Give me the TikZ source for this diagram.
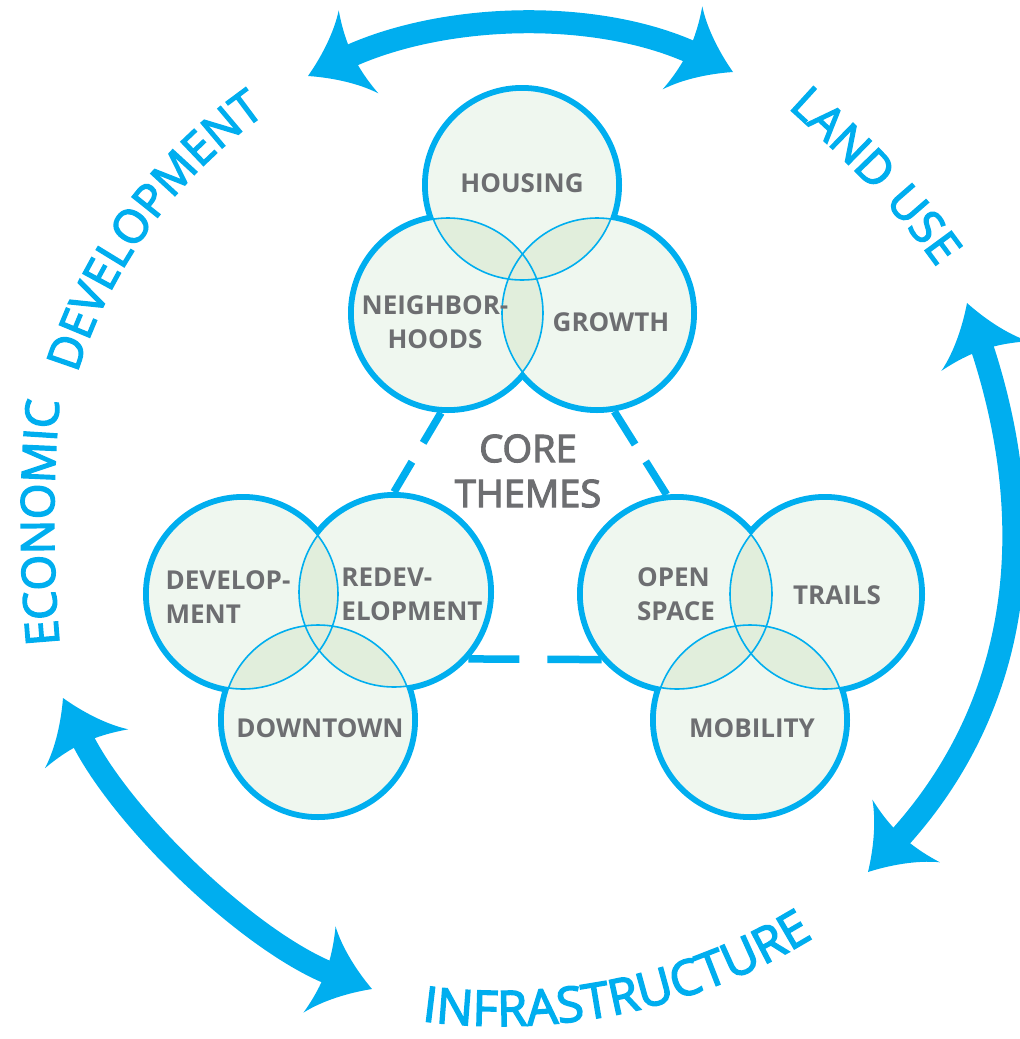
\documentclass[tikz,border=0pt]{standalone}
\usepackage{fontspec}
\setmainfont{Open Sans}
\newfontfamily\bandfam[FakeBold=3]{Open Sans}
\newfontfamily\bandwide[FakeBold=3,LetterSpace=4]{Open Sans}
\newfontfamily\bandwider[FakeBold=3,LetterSpace=6]{Open Sans}
\newfontfamily\corefam[FakeBold=3]{Open Sans}
\usetikzlibrary{arrows.meta,decorations.text}
\definecolor{themeblue}{HTML}{00AEEF}
\definecolor{themegray}{HTML}{6D6E71}
\definecolor{themefill}{HTML}{EFF7EF}
\definecolor{themeoverlap}{HTML}{E1EEDC}
\newcommand\bandfont{\bandfam\fontsize{46}{46}\selectfont}
\newcommand\bandwidefont{\bandwide\fontsize{46}{46}\selectfont}
\newcommand\bandwiderfont{\bandwider\fontsize{49}{49}\selectfont}

\pgfdeclarearrow{
  name = Swoop,
  parameters = {\the\pgfarrowlength,\the\pgfarrowwidth},
  setup code = {
    \pgfarrowssettipend{0pt}
    \pgfarrowssetbackend{-\pgfarrowlength}
    \pgfarrowssetlineend{-.7\pgfarrowlength}
    \pgfarrowshullpoint{0pt}{0pt}
    \pgfarrowsupperhullpoint{-\pgfarrowlength}{.5\pgfarrowwidth}
    \pgfarrowssavethe\pgfarrowlength
    \pgfarrowssavethe\pgfarrowwidth
  },
  drawing code = {
    \pgfpathmoveto{\pgfpointorigin}
    \pgfpathcurveto{\pgfqpoint{-.35\pgfarrowlength}{.12\pgfarrowwidth}}
                   {\pgfqpoint{-.75\pgfarrowlength}{.3\pgfarrowwidth}}
                   {\pgfqpoint{-\pgfarrowlength}{.5\pgfarrowwidth}}
    \pgfpathcurveto{\pgfqpoint{-.92\pgfarrowlength}{.32\pgfarrowwidth}}
                   {\pgfqpoint{-.88\pgfarrowlength}{.15\pgfarrowwidth}}
                   {\pgfqpoint{-.88\pgfarrowlength}{0pt}}
    \pgfpathcurveto{\pgfqpoint{-.88\pgfarrowlength}{-.15\pgfarrowwidth}}
                   {\pgfqpoint{-.92\pgfarrowlength}{-.32\pgfarrowwidth}}
                   {\pgfqpoint{-\pgfarrowlength}{-.5\pgfarrowwidth}}
    \pgfpathcurveto{\pgfqpoint{-.75\pgfarrowlength}{-.3\pgfarrowwidth}}
                   {\pgfqpoint{-.35\pgfarrowlength}{-.12\pgfarrowwidth}}
                   {\pgfpointorigin}
    \pgfpathclose
    \pgfusepathqfill
  },
  defaults = {length=56pt, width=92pt}
}

\begin{document}
\begin{tikzpicture}[x=1pt,y=1pt]
    \tikzstyle{ring}=[circle,draw=themeblue,line width=10pt,minimum size=190pt,inner sep=0pt]
    \tikzstyle{theme}=[text=themegray,font=\fontsize{26}{34}\selectfont\bfseries,align=left,inner sep=0pt]
    \tikzstyle{link}=[draw=themeblue,line width=7.5pt]
    \tikzstyle{turn}=[draw=themeblue,line width=23pt,Swoop-Swoop]
    \tikzstyle{band}=[decorate,decoration={text along path,text align=center,text color=themeblue}]
    \useasboundingbox (0,0) rectangle (1020,-1039);

    \coordinate (eco-top) at (308,-76);
    \coordinate (land-top) at (733,-72);
    \coordinate (land-bot) at (967,-303);
    \coordinate (infra-right) at (868,-872);
    \coordinate (infra-left) at (372,-989);
    \coordinate (eco-bot) at (63,-698);
    \draw[turn] (eco-top) .. controls (442,-12) and (599,-8) .. (land-top);
    \draw[turn] (land-bot) .. controls (1041,-521) and (1024,-704) .. (infra-right);
    \draw[turn] (eco-bot) .. controls (118,-816) and (251,-944) .. (infra-left);

    \path[band,decoration={text={|\bandfont|ECONOMIC}}]
      (60,-650) .. controls (52,-565) and (52,-480) .. (60,-395);
    \path[band,decoration={text={|\bandwidefont|DEVELOPMENT}}]
      ([shift={(552,-520)}]167:497) arc[start angle=167,end angle=121,radius=497];
    \path[band,decoration={text={|\bandwidefont|LAND USE}}]
      (775,-96) .. controls (835,-150) and (900,-210) .. (947,-282);
    \path[band,decoration={text={|\bandwiderfont|INFRASTRUCTURE}}]
      ([shift={(500,-426)}]256:600) arc[start angle=256,end angle=308,radius=600];

    \node[ring] (housing) at (522,-185) {};
    \node[ring] (nbhd) at (448,-313) {};
    \node[ring] (growth) at (597,-313) {};
    \node[ring] (devel) at (243,-594) {};
    \node[ring] (redev) at (394,-592) {};
    \node[ring] (downtown) at (318,-720) {};
    \node[ring] (openspace) at (677,-594) {};
    \node[ring] (trails) at (825,-594) {};
    \node[ring] (mobility) at (750,-720) {};

    \foreach \c in {housing,nbhd,growth,devel,redev,downtown,openspace,trails,mobility}
      \fill[themefill] (\c.center) circle[radius=95pt];
    \foreach \a/\b in {housing/nbhd,housing/growth,nbhd/growth,devel/redev,devel/downtown,redev/downtown,openspace/trails,openspace/mobility,trails/mobility}
    {
      \begin{scope}
        \clip (\a.center) circle[radius=95pt];
        \fill[themeoverlap] (\b.center) circle[radius=95pt];
      \end{scope}
    }
    \foreach \c in {housing,nbhd,growth,devel,redev,downtown,openspace,trails,mobility}
      \draw[themeblue,line width=1.6pt] (\c.center) circle[radius=95pt];

    \draw[link,dash pattern=on 35pt off 22pt on 80pt] (nbhd.266) -- (redev.90);
    \draw[link,dash pattern=on 39pt off 20pt on 80pt] (growth.280) -- (openspace.96);
    \draw[link,dash pattern=on 51pt off 28pt on 90pt] (redev.318) -- (openspace.221);

    \node[theme] (housing-t) at (522,-183) {HOUSING};
    \node[theme,align=center] (nbhd-t) at (435,-322) {NEIGHBOR-\\HOODS};
    \node[theme] (growth-t) at (611,-322) {GROWTH};
    \node[theme] (devel-t) at (228,-597) {DEVELOP-\\MENT};
    \node[theme] (redev-t) at (412,-594) {REDEV-\\ELOPMENT};
    \node[theme] (downtown-t) at (320,-728) {DOWNTOWN};
    \node[theme] (openspace-t) at (676,-594) {OPEN\\SPACE};
    \node[theme] (trails-t) at (837,-595) {TRAILS};
    \node[theme] (mobility-t) at (752,-728) {MOBILITY};
    \node[text=themegray,font=\corefam\fontsize{38}{45}\selectfont,align=center,inner sep=0pt] (core) at (528,-471) {CORE\\THEMES};
\end{tikzpicture}
\end{document}
